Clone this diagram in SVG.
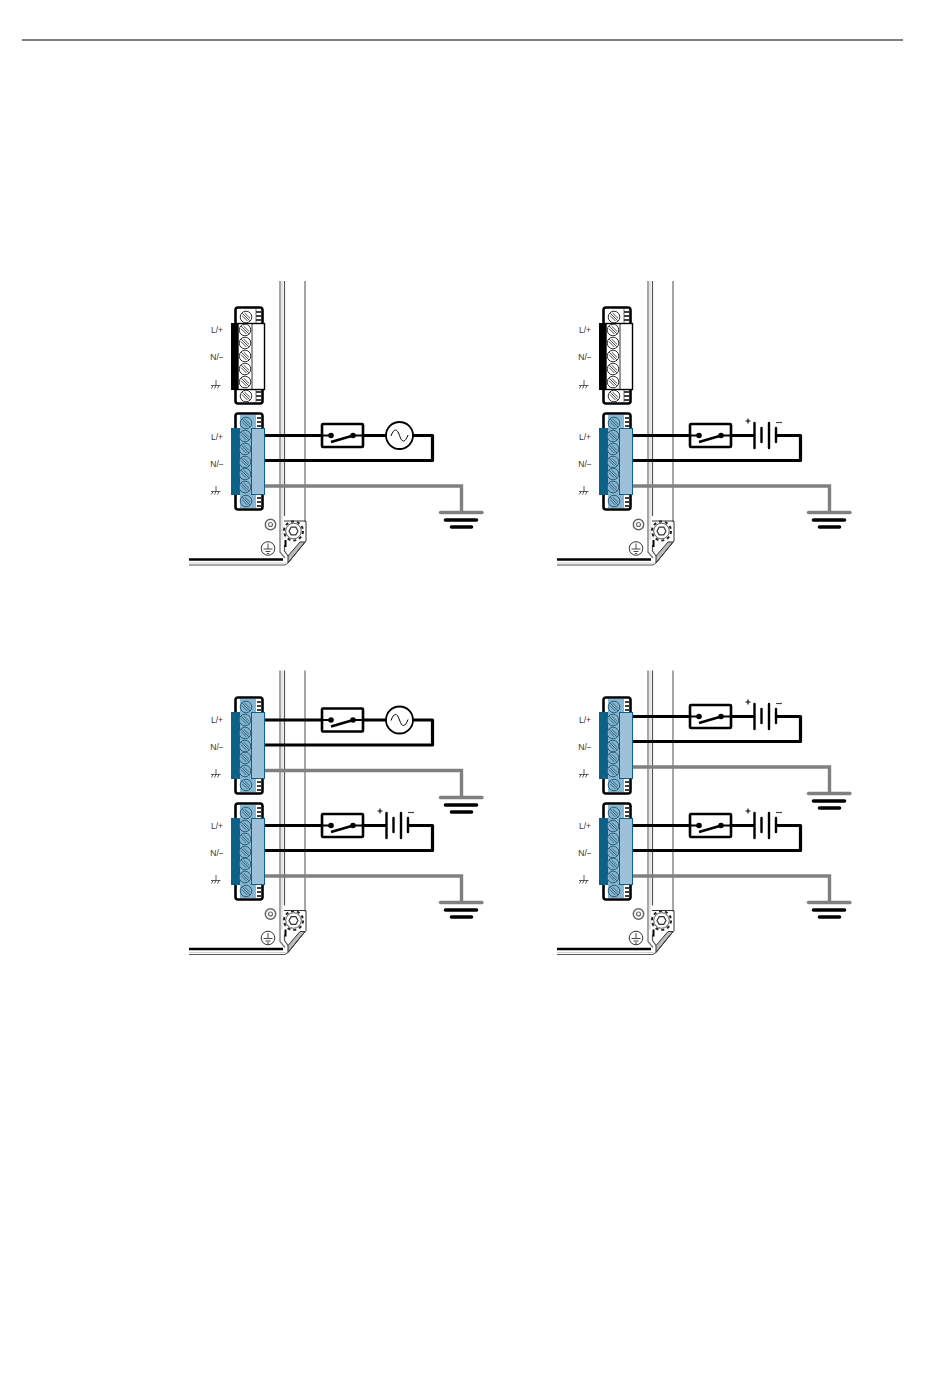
<svg xmlns="http://www.w3.org/2000/svg" width="950" height="1387" viewBox="0 0 950 1387">
<style>
text{font-family:"Liberation Sans",Arial,sans-serif;font-size:8.5px;fill:#333;text-anchor:middle}
.w{fill:none;stroke:#000;stroke-width:3.200;stroke-linejoin:round}
.g{fill:none;stroke:#808080;stroke-width:3.400;stroke-linejoin:miter}
</style>
<defs>
<g id="screwW"><circle r="5.800" fill="#fff" stroke="#333" stroke-width="1"/><path d="M-3.800-3.800 3.800 3.800M-4-1.400 1.400 4M-1.400-4 4 1.400" stroke="#4a4a4a" stroke-width="1"/></g>
<g id="screwB"><circle r="5.800" fill="#84b5d0" stroke="#2f5f79" stroke-width="1"/><path d="M-3.800-3.800 3.800 3.800M-4-1.400 1.400 4M-1.400-4 4 1.400" stroke="#3f677f" stroke-width="1"/></g>
<g id="earthIcon"><path d="M0-5V0.500M-5 0.500H4.500M-4.500 3.500-3 0.500M-1.500 3.500 0 0.500M1.500 3.500 3 0.500" fill="none" stroke="#333" stroke-width="0.800"/></g>
<g id="connDark">
<rect x="235.500" y="307.500" width="27" height="96" rx="2.500" fill="#fff" stroke="#000" stroke-width="2.600"/>
<path d="M256 312h5M256 316h5M256 320h5M256 392h5M256 396h5M256 400h5" stroke="#000" stroke-width="1.300"/>
<path d="M256 309V323M256 390V402" stroke="#333" stroke-width="0.700"/>
<rect x="231" y="323" width="9" height="67" fill="#000"/>
<rect x="238" y="323.500" width="26.500" height="66" fill="#fff" stroke="#000" stroke-width="1.400"/>
<path d="M252 323V390" stroke="#000" stroke-width="0.800"/>
<use href="#screwW" x="246" y="317"/><use href="#screwW" x="245" y="330"/><use href="#screwW" x="245" y="343"/><use href="#screwW" x="245" y="356"/><use href="#screwW" x="245" y="369"/><use href="#screwW" x="245" y="382"/><use href="#screwW" x="246" y="396"/>
</g>
<g id="connBlue">
<rect x="235.500" y="413.500" width="27" height="96" rx="2.500" fill="#fff" stroke="#000" stroke-width="2.600"/>
<rect x="240" y="415" width="16" height="93" fill="#85b6d2"/>
<path d="M257 418h4M257 422h4M257 426h4M257 498h4M257 502h4M257 506h4" stroke="#000" stroke-width="1.300"/>
<rect x="231" y="428" width="9" height="67" fill="#0c6189"/>
<rect x="240" y="428" width="12" height="67" fill="#85b6d2"/>
<rect x="251.500" y="428.500" width="13" height="66" fill="#9cc1d9" stroke="#0c6189" stroke-width="1"/>
<use href="#screwB" x="246" y="423"/><use href="#screwB" x="245" y="436"/><use href="#screwB" x="245" y="449"/><use href="#screwB" x="245" y="462"/><use href="#screwB" x="245" y="474"/><use href="#screwB" x="245" y="487"/><use href="#screwB" x="246" y="501"/>
</g>
<g id="panel">
<path d="M280 281V552L285 558M305 281V522" fill="none" stroke="#777" stroke-width="1.300"/>
<path d="M284.500 281V516M284.500 545V551L288 556" fill="none" stroke="#555" stroke-width="1.200"/>
<path d="M282 281V540" fill="none" stroke="#ccc" stroke-width="1"/>
<path d="M189 559.500H283" fill="none" stroke="#000" stroke-width="2.400"/>
<path d="M189 565H285L288 563" fill="none" stroke="#555" stroke-width="1"/>
<path d="M189 563H286" fill="none" stroke="#bbb" stroke-width="0.700"/>
<path d="M285.500 540V547" stroke="#000" stroke-width="2"/>
<path d="M288 563 305 542H300L288 556Z" fill="#bbb" stroke="#333" stroke-width="1"/>
<path d="M284 521H306V541L288 563" fill="none" stroke="#333" stroke-width="1"/>
<circle cx="270.500" cy="524.500" r="5.200" fill="#fff" stroke="#666" stroke-width="1.500"/><circle cx="270.500" cy="524.500" r="2" fill="#fff" stroke="#666" stroke-width="1.100"/>
<circle cx="268" cy="548.500" r="6.800" fill="#fff" stroke="#333" stroke-width="1"/>
<path d="M268 543.500V549M263.500 549H272.500M265.500 551.500H270.500M267 553.500H269" fill="none" stroke="#333" stroke-width="0.900"/>
<circle cx="293.500" cy="531" r="9.500" fill="#fff" stroke="#222" stroke-width="2" stroke-dasharray="3 3"/>
<circle cx="293.500" cy="531" r="7.800" fill="#fff" stroke="#444" stroke-width="0.900"/>
<path d="M289 531 291.200 527.200H295.800L298 531 295.800 534.800H291.200Z" fill="#fff" stroke="#333" stroke-width="1.200"/>
</g>
<g id="switch">
<rect x="322" y="424" width="41" height="23" rx="1" fill="#fff" stroke="#000" stroke-width="2.600"/>
<path d="M331 442 355 435" stroke="#000" stroke-width="2.600" fill="none"/>
<circle cx="331" cy="435.500" r="2.800"/><circle cx="353" cy="435.500" r="2.800"/>
<path d="M322 435.500H331M353 435.500H363" stroke="#000" stroke-width="2"/>
</g>
<g id="ac">
<circle cx="399.500" cy="435.500" r="13.500" fill="#fff" stroke="#000" stroke-width="1.800"/>
<path d="M391 436C394 428 397 428 399.500 435.500S405 443 408 435" fill="none" stroke="#000" stroke-width="1"/>
</g>
<g id="bat">
<path d="M386.500 423V448M401 423V448" stroke="#000" stroke-width="2.400" stroke-linecap="round"/>
<path d="M393.500 428V442M408 428V442" stroke="#000" stroke-width="2.400" stroke-linecap="round"/>
<path d="M377.500 421h5M380 418.500v5" stroke="#000" stroke-width="1.100"/>
<path d="M408 422.500h6" stroke="#444" stroke-width="1.200"/>
</g>
<g id="gnd">
<path d="M440.500 512.500H482" stroke="#808080" stroke-width="3.400" stroke-linecap="round"/>
<path d="M445.500 520H476.500" stroke="#000" stroke-width="3.600" stroke-linecap="round"/>
<path d="M451.500 527H471.500" stroke="#000" stroke-width="3.600" stroke-linecap="round"/>
</g>
</defs>
<path id="header-rule" d="M22 40H903" stroke="#000" stroke-width="1"/>

<g id="panel-a"><use href="#panel"/></g>
<g id="panel-b" transform="translate(368,0)"><use href="#panel"/></g>
<g id="panel-c" transform="translate(0,389.500)"><use href="#panel"/></g>
<g id="panel-d" transform="translate(368,389.500)"><use href="#panel"/></g>

<g id="connectors">
<g><path class="w" d="M264 435.500H322M363 435.500H386M413 435.500H432.500V460.500H264"/><path class="g" d="M264 486H461.500V512"/></g>
<g transform="translate(368,0)"><path class="w" d="M264 435.500H322M363 435.500H386M408 435.500H432.500V460.500H264"/><path class="g" d="M264 486H461.500V512"/></g>
<g transform="translate(0,284.500)"><path class="w" d="M264 435.500H322M363 435.500H386M413 435.500H432.500V460.500H264"/><path class="g" d="M264 486H461.500V512"/></g>
<g transform="translate(0,390)"><path class="w" d="M264 435.500H322M363 435.500H386M408 435.500H432.500V460.500H264"/><path class="g" d="M264 486H461.500V512"/></g>
<g transform="translate(368,281)"><path class="w" d="M264 435.500H322M363 435.500H386M408 435.500H432.500V460.500H264"/><path class="g" d="M264 486H461.500V512"/></g>
<g transform="translate(368,390)"><path class="w" d="M264 435.500H322M363 435.500H386M408 435.500H432.500V460.500H264"/><path class="g" d="M264 486H461.500V512"/></g>
</g>

<g id="conn-a-top"><use href="#connDark"/><text x="217" y="333">L/+</text><text x="217" y="360">N/−</text><use href="#earthIcon" x="216" y="385"/></g>
<g id="conn-b-top" transform="translate(368,0)"><use href="#connDark"/><text x="217" y="333">L/+</text><text x="217" y="360">N/−</text><use href="#earthIcon" x="216" y="385"/></g>
<g id="conn-a"><use href="#connBlue"/><text x="217" y="440">L/+</text><text x="217" y="467">N/−</text><use href="#earthIcon" x="216" y="491"/></g>
<g id="conn-b" transform="translate(368,0)"><use href="#connBlue"/><text x="217" y="440">L/+</text><text x="217" y="467">N/−</text><use href="#earthIcon" x="216" y="491"/></g>
<g id="conn-c-top" transform="translate(0,284)"><use href="#connBlue"/><text x="217" y="439">L/+</text><text x="217" y="466">N/−</text><use href="#earthIcon" x="216" y="490"/></g>
<g id="conn-c" transform="translate(0,390)"><use href="#connBlue"/><text x="217" y="439">L/+</text><text x="217" y="466">N/−</text><use href="#earthIcon" x="216" y="490"/></g>
<g id="conn-d-top" transform="translate(368,284)"><use href="#connBlue"/><text x="217" y="439">L/+</text><text x="217" y="466">N/−</text><use href="#earthIcon" x="216" y="490"/></g>
<g id="conn-d" transform="translate(368,390)"><use href="#connBlue"/><text x="217" y="439">L/+</text><text x="217" y="466">N/−</text><use href="#earthIcon" x="216" y="490"/></g>

<g id="sw-a"><use href="#switch"/></g>
<g id="src-a"><use href="#ac"/></g>
<g id="gnd-a"><use href="#gnd"/></g>
<g id="sw-b" transform="translate(368,0)"><use href="#switch"/></g>
<g id="src-b" transform="translate(368,0)"><use href="#bat"/></g>
<g id="gnd-b" transform="translate(368,0)"><use href="#gnd"/></g>
<g id="sw-c1" transform="translate(0,284.500)"><use href="#switch"/></g>
<g id="src-c1" transform="translate(0,284.500)"><use href="#ac"/></g>
<g id="gnd-c1" transform="translate(0,285)"><use href="#gnd"/></g>
<g id="sw-c2" transform="translate(0,390)"><use href="#switch"/></g>
<g id="src-c2" transform="translate(0,390)"><use href="#bat"/></g>
<g id="gnd-c2" transform="translate(0,390)"><use href="#gnd"/></g>
<g id="sw-d1" transform="translate(368,281)"><use href="#switch"/></g>
<g id="src-d1" transform="translate(368,281)"><use href="#bat"/></g>
<g id="gnd-d1" transform="translate(368,281)"><use href="#gnd"/></g>
<g id="sw-d2" transform="translate(368,390)"><use href="#switch"/></g>
<g id="src-d2" transform="translate(368,390)"><use href="#bat"/></g>
<g id="gnd-d2" transform="translate(368,390)"><use href="#gnd"/></g>
</svg>
